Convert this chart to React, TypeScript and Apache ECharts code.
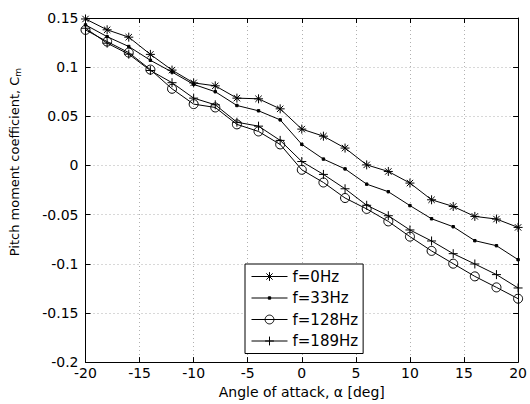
import React, { useEffect, useRef } from "react";
import * as echarts from "echarts";

const alpha = [-20, -18, -16, -14, -12, -10, -8, -6, -4, -2, 0, 2, 4, 6, 8, 10, 12, 14, 16, 18, 20];

const f0 = [0.149, 0.138, 0.1305, 0.113, 0.097, 0.084, 0.081, 0.0685, 0.0678, 0.0576, 0.037, 0.0298, 0.0177, 0.0006, -0.0061, -0.0179, -0.0349, -0.0417, -0.0518, -0.0545, -0.063];
const f33 = [0.143, 0.131, 0.121, 0.107, 0.095, 0.0825, 0.075, 0.061, 0.0556, 0.0464, 0.0215, 0.0065, -0.0035, -0.019, -0.0267, -0.0408, -0.0542, -0.0623, -0.0765, -0.0816, -0.0958];
const f128 = [0.1379, 0.126, 0.1148, 0.0975, 0.078, 0.0624, 0.059, 0.0418, 0.0346, 0.0214, -0.0044, -0.0173, -0.0331, -0.0442, -0.0569, -0.0724, -0.0869, -0.0999, -0.1128, -0.124, -0.1355];
const f189 = [0.1396, 0.1244, 0.1132, 0.0966, 0.0842, 0.0685, 0.0617, 0.044, 0.04, 0.0255, 0.004, -0.0091, -0.0237, -0.0405, -0.0511, -0.0656, -0.0768, -0.0897, -0.1002, -0.111, -0.1246];

const seriesNames = ["f=0Hz", "f=33Hz", "f=128Hz", "f=189Hz"];

const STAR = "path://M4.5,0L4.5,9M0,4.5L9,4.5M1.3,1.3L7.7,7.7M7.7,1.3L1.3,7.7";
const PLUS = "path://M4.5,0L4.5,9M0,4.5L9,4.5";
const DOT = "path://M0,0M9,9M3.3,3.3L5.7,3.3L5.7,5.7L3.3,5.7Z";

const FONT = "DejaVu Sans";

export default function App() {
  const ref = useRef<HTMLDivElement>(null);
  useEffect(() => {
    if (!ref.current) return;
    const chart = echarts.init(ref.current, null, { renderer: "svg" });
    const mk = (name: string, vals: number[], symbol: string, size: number, fill: string) => ({
      name,
      type: "line",
      data: alpha.map((a, i) => [a, vals[i]]),
      symbol,
      symbolSize: size,
      lineStyle: { color: "#000", width: 1 },
      itemStyle: { color: fill, borderColor: "#000", borderWidth: 1 },
      emphasis: { disabled: true },
      silent: true,
      z: 3,
    });
    const axisCommon = {
      axisLine: { show: true, onZero: false, lineStyle: { color: "#000", width: 1 } },
      axisTick: { show: true, inside: true, length: 5, lineStyle: { color: "#000" } },
    };
    chart.setOption({
      animation: false,
      backgroundColor: "#fff",
      textStyle: { fontFamily: FONT },
      grid: { left: 85, right: 9, top: 18, bottom: 41 },
      xAxis: [
        {
          type: "value",
          min: -20,
          max: 20,
          interval: 5,
          position: "bottom",
          ...axisCommon,
          axisLabel: { color: "#000", fontSize: 14, fontFamily: FONT, margin: 4 },
          splitLine: { show: true, lineStyle: { color: "#b0b0b0", type: [1, 3], width: 1 } },
          name: "Angle of attack, \u03b1 [deg]",
          nameLocation: "middle",
          nameGap: 20,
          nameTextStyle: { color: "#000", fontSize: 14, fontFamily: FONT },
        },
        {
          type: "value",
          min: -20,
          max: 20,
          interval: 5,
          position: "top",
          ...axisCommon,
          axisLabel: { show: false },
          splitLine: { show: false },
        },
      ],
      yAxis: [
        {
          type: "value",
          min: -0.2,
          max: 0.15,
          interval: 0.05,
          position: "left",
          ...axisCommon,
          axisLabel: { color: "#000", fontSize: 14, fontFamily: FONT, margin: 7 },
          splitLine: { show: true, lineStyle: { color: "#b0b0b0", type: [1, 3], width: 1 } },
          name: "Pitch moment coefficient, C{sub|m}",
          nameLocation: "middle",
          nameGap: 63,
          nameTextStyle: {
            color: "#000",
            fontSize: 13,
            fontFamily: FONT,
            padding: [0, 0, 0, 56],
            rich: { sub: { fontSize: 9, fontFamily: FONT, color: "#000", verticalAlign: "bottom", padding: [7, 0, 0, 0] } },
          },
        },
        {
          type: "value",
          min: -0.2,
          max: 0.15,
          interval: 0.05,
          position: "right",
          ...axisCommon,
          axisLabel: { show: false },
          splitLine: { show: false },
        },
      ],
      legend: {
        orient: "vertical",
        left: 245,
        top: 264,
        itemWidth: 36,
        itemHeight: 11,
        itemGap: 6.5,
        padding: [5, 5, 5, 6],
        borderColor: "#000",
        borderWidth: 1,
        backgroundColor: "#fff",
        selectedMode: false,
        lineStyle: { width: 1, color: "#000" },
        itemStyle: { borderWidth: 1, borderColor: "#000" },
        textStyle: { color: "#000", fontSize: 15, fontFamily: FONT },
        data: seriesNames,
      },
      series: [
        mk(seriesNames[0], f0, STAR, 9, "#000"),
        mk(seriesNames[1], f33, DOT, 9, "#000"),
        mk(seriesNames[2], f128, "circle", 9, "rgba(0,0,0,0)"),
        mk(seriesNames[3], f189, PLUS, 9, "#000"),
      ],
    });
    return () => chart.dispose();
  }, []);
  return (
    <div
      ref={ref}
      style={{ position: "absolute", left: 0, top: 0, width: 530, height: 404, background: "#fff" }}
    />
  );
}
